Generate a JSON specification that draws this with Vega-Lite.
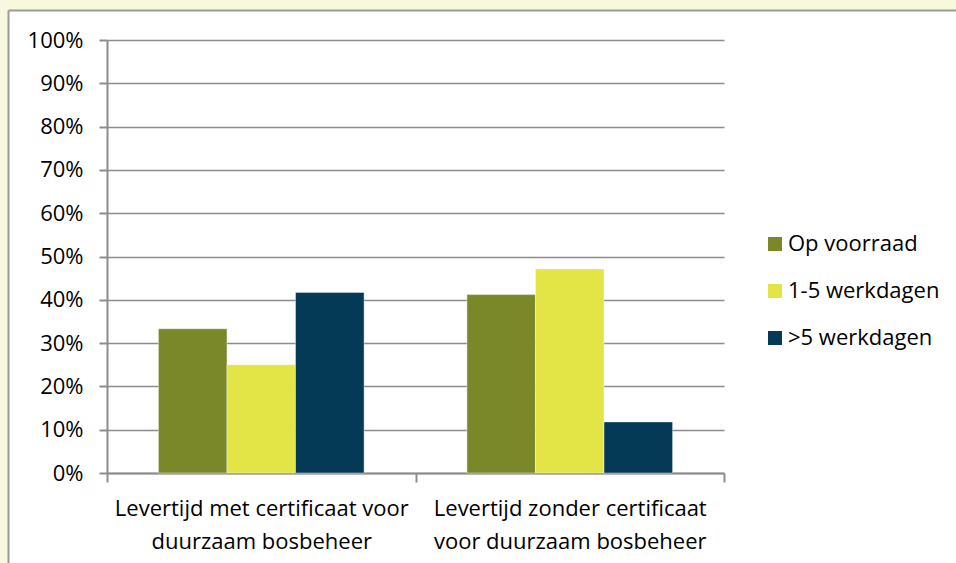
{
  "$schema": "https://vega.github.io/schema/vega-lite/v6.json",
  "width": 948,
  "height": 553,
  "autosize": {"type": "none"},
  "padding": {"left": 8, "top": 10, "right": 0, "bottom": 0},
  "background": "#F8F8DC",
  "config": {
    "view": {"fill": "white", "stroke": null},
    "font": "Open Sans"
  },
  "data": {
    "values": [
      {"categorie": "Levertijd met certificaat voor duurzaam bosbeheer", "levertijd": "Op voorraad", "aandeel": 0.333},
      {"categorie": "Levertijd met certificaat voor duurzaam bosbeheer", "levertijd": "1-5 werkdagen", "aandeel": 0.25},
      {"categorie": "Levertijd met certificaat voor duurzaam bosbeheer", "levertijd": ">5 werkdagen", "aandeel": 0.417},
      {"categorie": "Levertijd zonder certificaat voor duurzaam bosbeheer", "levertijd": "Op voorraad", "aandeel": 0.412},
      {"categorie": "Levertijd zonder certificaat voor duurzaam bosbeheer", "levertijd": "1-5 werkdagen", "aandeel": 0.471},
      {"categorie": "Levertijd zonder certificaat voor duurzaam bosbeheer", "levertijd": ">5 werkdagen", "aandeel": 0.118}
    ]
  },
  "layer": [
    {
      "mark": {"type": "point", "opacity": 0},
      "encoding": {
        "x": {
          "field": "categorie",
          "type": "nominal",
          "sort": null,
          "axis": {
            "orient": "top",
            "offset": 0,
            "title": null,
            "labels": false,
            "ticks": false,
            "grid": false,
            "domainColor": "#9a9a9a",
            "domainWidth": 2
          }
        },
        "y": {
          "field": "aandeel",
          "type": "quantitative",
          "axis": {
            "orient": "left",
            "offset": 0,
            "title": null,
            "labels": false,
            "ticks": false,
            "grid": false,
            "domainColor": "#9a9a9a",
            "domainWidth": 2
          }
        }
      }
    },
    {
      "mark": {"type": "bar", "stroke": "white", "strokeOpacity": 0.4, "strokeWidth": 1},
      "encoding": {
        "x": {
          "field": "categorie",
          "type": "nominal",
          "sort": null,
          "scale": {"range": [99, 716], "paddingInner": 0, "paddingOuter": 0},
          "axis": {
            "orient": "bottom",
            "title": null,
            "offset": -90,
            "tickBand": "extent",
            "labelAngle": 0,
            "labelFontSize": 22,
            "labelColor": "#000000",
            "labelLineHeight": 33,
            "labelPadding": 16,
            "labelLimit": 400,
            "labelExpr": "datum.value == 'Levertijd met certificaat voor duurzaam bosbeheer' ? ['Levertijd met certificaat voor', 'duurzaam bosbeheer'] : datum.value == 'Levertijd zonder certificaat voor duurzaam bosbeheer' ? ['Levertijd zonder certificaat', 'voor duurzaam bosbeheer'] : ''",
            "domainColor": "#8c8c8c",
            "domainWidth": 2,
            "tickColor": "#8c8c8c",
            "tickWidth": 2,
            "tickSize": 9,
            "grid": false
          }
        },
        "xOffset": {
          "field": "levertijd",
          "type": "nominal",
          "sort": ["Op voorraad", "1-5 werkdagen", ">5 werkdagen"],
          "scale": {"paddingInner": 0, "paddingOuter": 0.75}
        },
        "y": {
          "field": "aandeel",
          "type": "quantitative",
          "scale": {"domain": [0, 1], "range": [463, 30], "nice": false},
          "axis": {
            "orient": "left",
            "title": null,
            "offset": -99,
            "format": ".0%",
            "values": [0, 0.1, 0.2, 0.3, 0.4, 0.5, 0.6, 0.7, 0.8, 0.9, 1],
            "labelFontSize": 22,
            "labelColor": "#000000",
            "labelPadding": 16,
            "domainColor": "#8c8c8c",
            "domainWidth": 2,
            "tickColor": "#8c8c8c",
            "tickWidth": 2,
            "tickSize": 8,
            "grid": true,
            "gridColor": "#8c8c8c",
            "gridWidth": 1.5
          }
        },
        "color": {
          "field": "levertijd",
          "type": "nominal",
          "scale": {
            "domain": ["Op voorraad", "1-5 werkdagen", ">5 werkdagen"],
            "range": ["#7B882A", "#E3E445", "#043A56"]
          },
          "legend": {
            "title": null,
            "orient": "none",
            "legendX": 756,
            "legendY": 223,
            "padding": 0,
            "symbolType": "square",
            "symbolSize": 196,
            "symbolStrokeWidth": 0,
            "labelFontSize": 22,
            "labelColor": "#000000",
            "labelOffset": 2,
            "rowPadding": 25
          }
        }
      }
    }
  ],
  "resolve": {"scale": {"x": "independent", "y": "independent"}, "axis": {"x": "independent", "y": "independent"}}
}
